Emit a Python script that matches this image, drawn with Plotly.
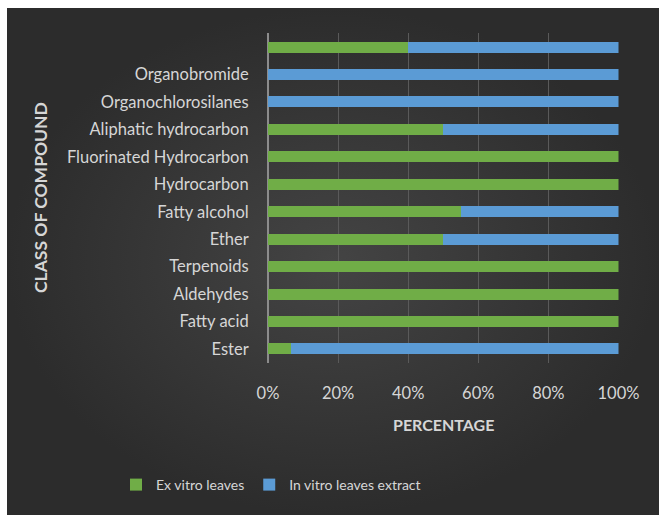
import plotly.graph_objects as go

# Compound classes, bottom to top (the top row has no label)
categories = ["Ester", "Fatty acid", "Aldehydes", "Terpenoids", "Ether",
              "Fatty alcohol", "Hydrocarbon", "Fluorinated Hydrocarbon",
              "Aliphatic hydrocarbon", "Organochlorosilanes", "Organobromide", " "]

# Share of each class (%) per extract
ex_vitro = [6.7, 100, 100, 100, 50, 55, 100, 100, 50, 0, 0, 40]
in_vitro = [93.3, 0, 0, 0, 50, 45, 0, 0, 50, 100, 100, 60]

x_ticks = [0, 20, 40, 60, 80, 100]
x_tick_labels = ["0%", "20%", "40%", "60%", "80%", "100%"]

W, H = 659, 515
GREEN = "#70AD47"
BLUE = "#5B9BD5"
TXT = "#d6d6d6"
FONT = "Lato, 'Open Sans', sans-serif"
FS = 16.5

fig = go.Figure()

# Dark panel with a soft radial shading behind the whole chart
fig.add_trace(go.Scatter(
    x=[7, W, W, 7, 7], y=[8, 8, H, H, 8],
    mode="lines", line=dict(width=0), fill="toself",
    fillgradient=dict(type="radial", colorscale=[[0, "#444444"], [1, "#2c2c2c"]]),
    hoverinfo="skip", showlegend=False, xaxis="x", yaxis="y",
))

fig.add_trace(go.Bar(
    y=categories, x=ex_vitro, orientation="h", name="Ex vitro leaves",
    marker=dict(color=GREEN, line=dict(width=0)), xaxis="x2", yaxis="y2",
))
fig.add_trace(go.Bar(
    y=categories, x=in_vitro, orientation="h", name="In vitro leaves extract",
    marker=dict(color=BLUE, line=dict(width=0)), xaxis="x2", yaxis="y2",
))

fig.update_layout(
    width=W, height=H,
    margin=dict(l=0, r=0, t=0, b=0, autoexpand=False),
    paper_bgcolor="white",
    plot_bgcolor="rgba(0,0,0,0)",
    barmode="stack",
    bargap=0.6,
    font=dict(family=FONT, color=TXT, size=FS),
    xaxis=dict(domain=[0, 1], range=[0, W], visible=False, fixedrange=True),
    yaxis=dict(domain=[0, 1], range=[H, 0], visible=False, fixedrange=True),
    xaxis2=dict(
        domain=[268 / W, 618.5 / W], anchor="y2", range=[0, 100],
        tickvals=x_ticks, ticktext=x_tick_labels,
        showgrid=True, gridcolor="#5a5a5a", gridwidth=1,
        zeroline=True, zerolinecolor="#8c8c8c", zerolinewidth=2,
        ticks="outside", ticklen=15, tickcolor="rgba(0,0,0,0)",
        tickfont=dict(size=FS, color=TXT),
        showline=False, automargin=False,
    ),
    yaxis2=dict(
        domain=[1 - 362.7 / H, 1 - 33.3 / H], anchor="x2",
        type="category", categoryorder="array", categoryarray=categories,
        showgrid=False, zeroline=False, showline=False,
        ticks="outside", ticklen=15, tickcolor="rgba(0,0,0,0)",
        tickfont=dict(size=FS, color=TXT), automargin=False,
    ),
    legend=dict(
        orientation="h", x=116 / W, xanchor="left", y=1 - 485 / H, yanchor="middle",
        font=dict(size=14, color=TXT), bgcolor="rgba(0,0,0,0)",
        itemwidth=30, traceorder="normal",
    ),
    annotations=[
        dict(text="<b>PERCENTAGE</b>", x=443 / W, y=1 - 424 / H, xref="paper", yref="paper",
             xanchor="center", yanchor="middle",
             showarrow=False, font=dict(size=16, color=TXT, family=FONT)),
        dict(text="<b>CLASS OF COMPOUND</b>", x=40 / W, y=1 - 198 / H, xref="paper", yref="paper",
             xanchor="center", yanchor="middle",
             showarrow=False, textangle=-90, font=dict(size=17.5, color=TXT, family=FONT)),
    ],
)

fig.write_html("out.html")
